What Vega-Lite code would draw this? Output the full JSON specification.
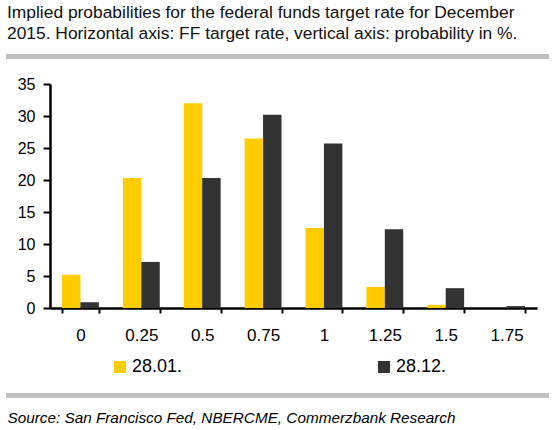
{
  "$schema": "https://vega.github.io/schema/vega-lite/v6.json",
  "width": 487,
  "height": 224,
  "autosize": {"type": "none"},
  "padding": {"left": 50, "top": 84, "right": 19, "bottom": 122},
  "config": {
    "view": {"stroke": null},
    "font": "Liberation Sans"
  },
  "title": {
    "text": [
      "Implied probabilities for the federal funds target rate for December",
      "2015. Horizontal axis: FF target rate, vertical axis: probability in %."
    ],
    "anchor": "start",
    "frame": "group",
    "dx": -43,
    "fontSize": 17.4,
    "fontWeight": "normal",
    "color": "#111111",
    "offset": 12,
    "lineHeight": 21
  },
  "data": {
    "values": [
      {"rate": "0", "series": "28.01.", "prob": 5.2},
      {"rate": "0.25", "series": "28.01.", "prob": 20.3},
      {"rate": "0.5", "series": "28.01.", "prob": 32.0},
      {"rate": "0.75", "series": "28.01.", "prob": 26.5},
      {"rate": "1", "series": "28.01.", "prob": 12.5},
      {"rate": "1.25", "series": "28.01.", "prob": 3.3},
      {"rate": "1.5", "series": "28.01.", "prob": 0.5},
      {"rate": "1.75", "series": "28.01.", "prob": 0.0},
      {"rate": "0", "series": "28.12.", "prob": 0.9},
      {"rate": "0.25", "series": "28.12.", "prob": 7.2},
      {"rate": "0.5", "series": "28.12.", "prob": 20.3},
      {"rate": "0.75", "series": "28.12.", "prob": 30.2},
      {"rate": "1", "series": "28.12.", "prob": 25.7},
      {"rate": "1.25", "series": "28.12.", "prob": 12.3},
      {"rate": "1.5", "series": "28.12.", "prob": 3.1},
      {"rate": "1.75", "series": "28.12.", "prob": 0.3}
    ]
  },
  "layer": [
    {
      "mark": "bar",
      "encoding": {
        "x": {
          "field": "rate",
          "type": "ordinal",
          "sort": ["0", "0.25", "0.5", "0.75", "1", "1.25", "1.5", "1.75"],
          "scale": {"paddingInner": 0.394, "paddingOuter": 0.197},
          "axis": {
            "title": "Source: San Francisco Fed, NBERCME, Commerzbank Research",
            "labelAngle": 0,
            "labelFontSize": 17,
            "labelColor": "black",
            "labelPadding": 14,
            "labelOverlap": false,
            "tickBand": "extent",
            "tickSize": 5,
            "tickWidth": 2,
            "tickColor": "black",
            "domainColor": "black",
            "domainWidth": 2.5,
            "titleFontSize": 15.3,
            "titleFontStyle": "italic",
            "titleFontWeight": "normal",
            "titleColor": "black",
            "titleAlign": "left",
            "titleAnchor": "start",
            "titleX": -43,
            "titleY": 114,
            "titleBaseline": "alphabetic"
          }
        },
        "xOffset": {"field": "series", "type": "nominal", "sort": ["28.01.", "28.12."]},
        "y": {
          "field": "prob",
          "type": "quantitative",
          "scale": {"domain": [0, 35], "nice": false},
          "axis": {
            "title": null,
            "values": [0, 5, 10, 15, 20, 25, 30, 35],
            "grid": false,
            "labelFontSize": 16,
            "labelColor": "black",
            "labelPadding": 8,
            "labelOverlap": false,
            "tickSize": 7,
            "tickWidth": 2,
            "tickColor": "black",
            "domainColor": "black",
            "domainWidth": 2.5
          }
        },
        "color": {
          "field": "series",
          "type": "nominal",
          "scale": {"domain": ["28.01.", "28.12."], "range": ["#FFCC00", "#333333"]},
          "legend": {
            "orient": "none",
            "legendX": 61,
            "legendY": 274,
            "direction": "horizontal",
            "title": null,
            "symbolType": "square",
            "symbolSize": 144,
            "symbolStrokeWidth": 0,
            "labelFontSize": 18,
            "labelColor": "black",
            "labelOffset": 3,
            "columnPadding": 192,
            "padding": 0,
            "offset": 0
          }
        }
      }
    },
    {
      "data": {"values": [{}]},
      "mark": {"type": "rule", "color": "#c0c0c0", "strokeWidth": 5},
      "encoding": {
        "y": {
          "datum": 39.3,
          "axis": {"title": null, "values": [0, 5, 10, 15, 20, 25, 30, 35], "labelOverlap": false}
        },
        "x": {"datum": -0.0903, "type": "quantitative", "scale": {"domain": [0, 1]}, "axis": null},
        "x2": {"datum": 1.0246}
      }
    },
    {
      "data": {"values": [{}]},
      "mark": {"type": "rule", "color": "#c0c0c0", "strokeWidth": 5},
      "encoding": {
        "y": {
          "datum": -13.67,
          "axis": {"title": null, "values": [0, 5, 10, 15, 20, 25, 30, 35], "labelOverlap": false}
        },
        "x": {"datum": -0.0903, "type": "quantitative", "scale": {"domain": [0, 1]}, "axis": null},
        "x2": {"datum": 1.0246}
      }
    }
  ],
  "resolve": {"scale": {"x": "independent"}}
}
